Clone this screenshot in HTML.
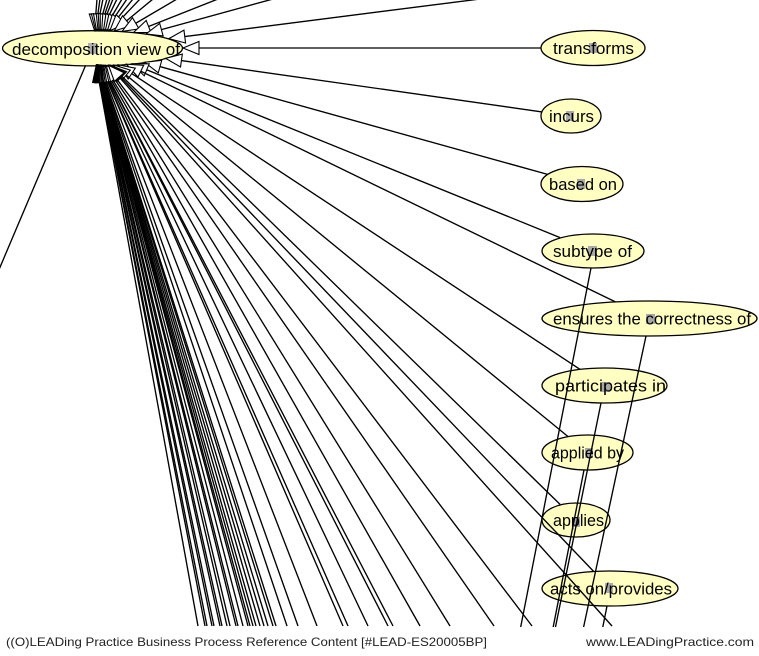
<!DOCTYPE html>
<html>
<head>
<meta charset="utf-8">
<style>
html,body{margin:0;padding:0;background:#fff;}
svg{display:block;}
text{font-family:"Liberation Sans",Arial,sans-serif;}
</style>
</head>
<body>
<svg width="759" height="656" viewBox="0 0 759 656" xmlns="http://www.w3.org/2000/svg">
<defs>
<marker id="a" markerWidth="20" markerHeight="16" refX="0" refY="7" orient="auto" markerUnits="userSpaceOnUse" overflow="visible">
<path d="M0,7 L16,0.5 L16,13.5 Z" fill="#fff" stroke="#000" stroke-width="1.1"/>
</marker>
</defs>
<rect width="759" height="656" fill="#fff"/>

<!-- hub ellipse -->
<ellipse cx="92.5" cy="48.3" rx="90" ry="17.6" fill="#ffffc2" stroke="#000" stroke-width="1.3"/>
<rect x="88" y="43" width="9" height="11" fill="#b0b0b0"/>
<text x="12" y="55" font-size="17" textLength="168" lengthAdjust="spacingAndGlyphs">decomposition view of</text>

<!-- right nodes -->
<g fill="#ffffc2" stroke="#000" stroke-width="1.3">
<ellipse cx="593" cy="48" rx="52" ry="17.5"/>
<ellipse cx="571" cy="116" rx="30" ry="17"/>
<ellipse cx="582" cy="184" rx="41" ry="17.5"/>
<ellipse cx="593" cy="251" rx="51" ry="17"/>
<ellipse cx="649.5" cy="318.5" rx="107.5" ry="17.5"/>
<ellipse cx="604.5" cy="385.5" rx="62.5" ry="17.5"/>
<ellipse cx="587.5" cy="452.5" rx="45.5" ry="17.5"/>
<ellipse cx="576" cy="520" rx="34" ry="17"/>
<ellipse cx="610" cy="588.5" rx="68" ry="17.5"/>
</g>
<g fill="#a8a8a8">
<rect x="589" y="43" width="8" height="10"/>
<rect x="566" y="111" width="8" height="10"/>
<rect x="577" y="179" width="8" height="10"/>
<rect x="588" y="246" width="9" height="10"/>
<rect x="646" y="314" width="9" height="10"/>
<rect x="602" y="382" width="8" height="10"/>
<rect x="585" y="448" width="8" height="10"/>
<rect x="573" y="517" width="7" height="10"/>
<rect x="605" y="583" width="8" height="10"/>
</g>
<g font-size="17" fill="#000">
<text x="553" y="54" textLength="81" lengthAdjust="spacingAndGlyphs">transforms</text>
<text x="549" y="122" textLength="45" lengthAdjust="spacingAndGlyphs">incurs</text>
<text x="549" y="190" textLength="68" lengthAdjust="spacingAndGlyphs">based on</text>
<text x="553" y="257" textLength="79" lengthAdjust="spacingAndGlyphs">subtype of</text>
<text x="553" y="324.5" textLength="198" lengthAdjust="spacingAndGlyphs">ensures the correctness of</text>
<text x="555" y="391.5" textLength="111" lengthAdjust="spacingAndGlyphs">participates in</text>
<text x="551" y="458.5" textLength="73" lengthAdjust="spacingAndGlyphs">applied by</text>
<text x="553" y="526" textLength="51" lengthAdjust="spacingAndGlyphs">applies</text>
<text x="550" y="594.5" textLength="122" lengthAdjust="spacingAndGlyphs">acts on/provides</text>
</g>

<g stroke="#000" stroke-width="1.35" fill="none">
<!-- hub -> right nodes -->
<line x1="183" y1="48" x2="541" y2="48" marker-start="url(#a)"/>
<line x1="165.6" y1="58.3" x2="541.9" y2="111.9" marker-start="url(#a)"/>
<line x1="144.6" y1="62.3" x2="547.6" y2="174.4" marker-start="url(#a)"/>
<line x1="131.9" y1="63.8" x2="560.1" y2="237.6" marker-start="url(#a)"/>
<line x1="126.4" y1="64.2" x2="615.4" y2="301.9" marker-start="url(#a)"/>
<line x1="118.4" y1="64.8" x2="580.1" y2="369.4" marker-start="url(#a)"/>
<line x1="113.8" y1="65" x2="568.1" y2="436.6" marker-start="url(#a)"/>
<line x1="110.6" y1="65.2" x2="560.2" y2="504.5" marker-start="url(#a)"/>
<line x1="109.5" y1="65.2" x2="593.7" y2="571.5" marker-start="url(#a)"/>

<!-- node down lines -->
<line x1="591" y1="268" x2="520.5" y2="628"/>
<line x1="646" y1="336" x2="583.4" y2="628"/>
<line x1="601" y1="403" x2="555.3" y2="628"/>
<line x1="584" y1="470" x2="553" y2="628"/>
<line x1="607" y1="606" x2="602.6" y2="628"/>

<!-- left line -->
<line x1="85.6" y1="65.4" x2="-5" y2="279"/>

<!-- hub -> bottom -->
<line x1="96.2" y1="65.4" x2="198" y2="626" marker-start="url(#a)"/>
<line x1="96.4" y1="65.4" x2="205" y2="626" marker-start="url(#a)"/>
<line x1="96.4" y1="65.4" x2="207" y2="626" marker-start="url(#a)"/>
<line x1="96.6" y1="65.4" x2="212" y2="626" marker-start="url(#a)"/>
<line x1="96.7" y1="65.4" x2="214" y2="626" marker-start="url(#a)"/>
<line x1="96.8" y1="65.4" x2="220" y2="626" marker-start="url(#a)"/>
<line x1="96.9" y1="65.4" x2="222" y2="626" marker-start="url(#a)"/>
<line x1="97.0" y1="65.4" x2="227" y2="626" marker-start="url(#a)"/>
<line x1="97.1" y1="65.4" x2="230" y2="626" marker-start="url(#a)"/>
<line x1="97.3" y1="65.4" x2="236" y2="626" marker-start="url(#a)"/>
<line x1="97.4" y1="65.4" x2="238" y2="626" marker-start="url(#a)"/>
<line x1="97.5" y1="65.4" x2="243" y2="626" marker-start="url(#a)"/>
<line x1="97.7" y1="65.4" x2="248" y2="626" marker-start="url(#a)"/>
<line x1="97.7" y1="65.4" x2="250" y2="626" marker-start="url(#a)"/>
<line x1="97.8" y1="65.4" x2="253" y2="626" marker-start="url(#a)"/>
<line x1="97.9" y1="65.4" x2="256" y2="626" marker-start="url(#a)"/>
<line x1="98.0" y1="65.4" x2="260" y2="626" marker-start="url(#a)"/>
<line x1="98.2" y1="65.4" x2="264" y2="626" marker-start="url(#a)"/>
<line x1="98.3" y1="65.4" x2="268" y2="626" marker-start="url(#a)"/>
<line x1="98.4" y1="65.4" x2="273" y2="626" marker-start="url(#a)"/>
<line x1="98.5" y1="65.4" x2="276" y2="626" marker-start="url(#a)"/>
<line x1="98.9" y1="65.4" x2="287" y2="626" marker-start="url(#a)"/>
<line x1="99.2" y1="65.4" x2="298" y2="626" marker-start="url(#a)"/>
<line x1="99.8" y1="65.4" x2="317" y2="626" marker-start="url(#a)"/>
<line x1="100.5" y1="65.4" x2="343" y2="626" marker-start="url(#a)"/>
<line x1="100.7" y1="65.4" x2="348" y2="626" marker-start="url(#a)"/>
<line x1="101.3" y1="65.4" x2="368" y2="626" marker-start="url(#a)"/>
<line x1="101.9" y1="65.4" x2="388" y2="626" marker-start="url(#a)"/>
<line x1="102.0" y1="65.4" x2="393" y2="626" marker-start="url(#a)"/>
<line x1="102.9" y1="65.4" x2="420" y2="626" marker-start="url(#a)"/>
<line x1="103.8" y1="65.4" x2="450" y2="626" marker-start="url(#a)"/>
<line x1="105.1" y1="65.4" x2="494" y2="626" marker-start="url(#a)"/>
<line x1="106.2" y1="65.3" x2="532" y2="626" marker-start="url(#a)"/>
<line x1="108.5" y1="65.2" x2="612" y2="626" marker-start="url(#a)"/>

<!-- hub -> top -->
<line x1="94.5" y1="30.5" x2="97" y2="-1" marker-start="url(#a)"/>
<line x1="95.6" y1="30.5" x2="100" y2="-1" marker-start="url(#a)"/>
<line x1="96.6" y1="30.5" x2="103" y2="-1" marker-start="url(#a)"/>
<line x1="98.1" y1="30.5" x2="107" y2="-1" marker-start="url(#a)"/>
<line x1="99.2" y1="30.5" x2="110" y2="-1" marker-start="url(#a)"/>
<line x1="100.3" y1="30.6" x2="113" y2="-1" marker-start="url(#a)"/>
<line x1="101.7" y1="30.6" x2="117" y2="-1" marker-start="url(#a)"/>
<line x1="103.5" y1="30.6" x2="122" y2="-1" marker-start="url(#a)"/>
<line x1="105.3" y1="30.7" x2="127" y2="-1" marker-start="url(#a)"/>
<line x1="107.4" y1="30.7" x2="133" y2="-1" marker-start="url(#a)"/>
<line x1="109.8" y1="30.8" x2="140" y2="-1" marker-start="url(#a)"/>
<line x1="114.3" y1="31" x2="153" y2="-1" marker-start="url(#a)"/>
<line x1="122" y1="31.4" x2="177" y2="-1" marker-start="url(#a)"/>
<line x1="133.7" y1="32.4" x2="218" y2="-1" marker-start="url(#a)"/>
<line x1="146" y1="33.9" x2="273" y2="-1" marker-start="url(#a)"/>
<line x1="168.9" y1="38.6" x2="480" y2="-1" marker-start="url(#a)"/>
</g>

<!-- footer -->
<rect x="0" y="627" width="759" height="29" fill="#fff"/>
<text x="6" y="646" font-size="12" fill="#222" textLength="481" lengthAdjust="spacingAndGlyphs">((O)LEADing Practice Business Process Reference Content [#LEAD-ES20005BP]</text>
<text x="586" y="646" font-size="12" fill="#222" textLength="168" lengthAdjust="spacingAndGlyphs">www.LEADingPractice.com</text>
</svg>
</body>
</html>
